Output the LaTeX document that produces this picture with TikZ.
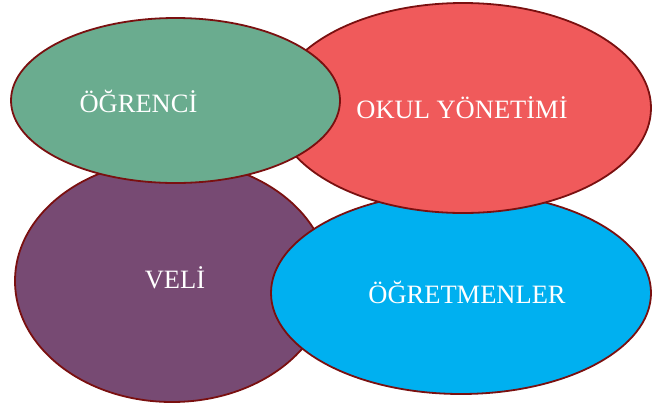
\documentclass[tikz,border=0pt]{standalone}
\usepackage{fontspec}
\setmainfont{Liberation Serif}
\usetikzlibrary{shapes.geometric}
\definecolor{edgec}{HTML}{7A1010}
\definecolor{greenc}{HTML}{6AAC8F}
\definecolor{redc}{HTML}{F05A5B}
\definecolor{purplec}{HTML}{774A73}
\definecolor{bluec}{HTML}{00B0F0}
\tikzset{
  blob/.style={ellipse, draw=edgec, line width=1.8pt, inner sep=0pt},
  lbl/.style={text=white, font=\fontsize{26.5}{31}\selectfont, anchor=base, inner sep=0pt}
}
\begin{document}
\begin{tikzpicture}[x=1pt,y=-1pt]
\useasboundingbox (0,0) rectangle (652,405);
\node[blob, fill=purplec, minimum width=314pt, minimum height=242pt] (veli) at (172,281) {};
\node[blob, fill=bluec, minimum width=380pt, minimum height=202pt] (ogretmen) at (461,293) {};
\node[blob, fill=redc, minimum width=376pt, minimum height=210pt] (okul) at (463,108) {};
\node[blob, fill=greenc, minimum width=329pt, minimum height=165pt] (ogrenci) at (175.5,100.5) {};
\node[lbl] (tOgrenci) at (138.5,112.5) {ÖĞRENCİ};
\node[lbl] (tOkul) at (462,118.5) {OKUL YÖNETİMİ};
\node[lbl] (tVeli) at (175,288.5) {VELİ};
\node[lbl] (tOgretmen) at (467,303.5) {ÖĞRETMENLER};
\end{tikzpicture}
\end{document}
